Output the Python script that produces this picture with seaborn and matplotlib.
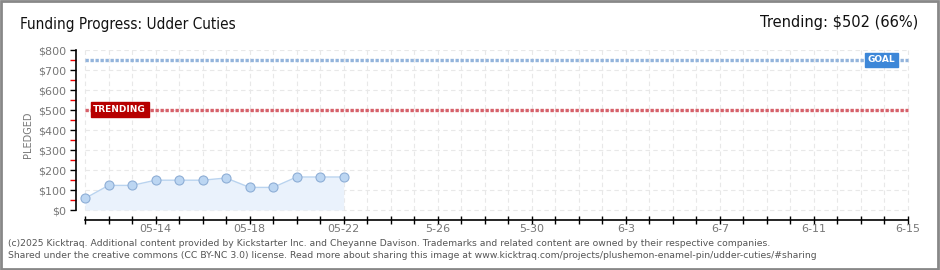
import matplotlib
matplotlib.use("Agg")
import matplotlib.pyplot as plt
import seaborn as sns
import pandas as pd
import numpy as np
from matplotlib.patches import Rectangle

# ---- data ----
start_date = "2025-05-11"
end_date = "2025-06-15"
pledge_dates = ["2025-05-11", "2025-05-12", "2025-05-13", "2025-05-14", "2025-05-15", "2025-05-16",
                "2025-05-17", "2025-05-18", "2025-05-19", "2025-05-20", "2025-05-21", "2025-05-22"]
pledged = [58, 123, 123, 149, 149, 149, 160, 113, 113, 165, 165, 165]
goal = 750
trending = 502
xtick_dates = ["2025-05-14", "2025-05-18", "2025-05-22", "2025-05-26", "2025-05-30",
               "2025-06-03", "2025-06-07", "2025-06-11", "2025-06-15"]
xtick_labels = ["05-14", "05-18", "05-22", "5-26", "5-30", "6-3", "6-7", "6-11", "6-15"]
ytick_values = [0, 100, 200, 300, 400, 500, 600, 700, 800]

sns.set_style("white")
plt.rcParams["font.family"] = ["DejaVu Sans"]

t0 = pd.Timestamp(start_date)
t_end = (pd.Timestamp(end_date) - t0).days
df = pd.DataFrame({
    "day": [(pd.Timestamp(d) - t0).days for d in pledge_dates],
    "pledged": pledged,
})

fig = plt.figure(figsize=(9.4, 2.7), dpi=100)
W, H = 940, 270
ax = fig.add_axes([76 / W, 1 - 220 / H, (910 - 76) / W, (220 - 50) / H])
px_per_day = (908 - 85) / t_end
ax.set_xlim(-(85 - 76) / px_per_day, t_end + 2 / px_per_day)
ax.set_ylim(-50, 800)

# grid
for d in range(0, t_end + 1):
    ax.plot([d, d], [0, 800], color="#e8e8e8", lw=0.8, ls=(0, (4, 3)), zorder=0)
for v in ytick_values:
    ax.plot([0, t_end], [v, v], color="#e8e8e8", lw=0.8, ls=(0, (4, 3)), zorder=0)

# area + line
ax.fill_between(df["day"], 0, df["pledged"], color="#eaf2fc", zorder=1, lw=0)
sns.lineplot(data=df, x="day", y="pledged", ax=ax, color="#b9d3ef", lw=1,
             marker="o", markersize=6.5, markerfacecolor="#bcd6f2",
             markeredgecolor="#8eaed6", markeredgewidth=0.8, zorder=3)

# goal / trending lines
ax.plot([0, t_end], [goal, goal], color="#93b4dc", lw=2.4, ls=(0, (1, 0.5)), zorder=2,
        dash_capstyle="butt")
ax.plot([0, t_end], [trending, trending], color="#d7606a", lw=2.4, ls=(0, (1, 0.5)), zorder=2,
        dash_capstyle="butt")

# labels on lines
ax.text(t_end - 0.55, goal, "GOAL", ha="right", va="center", fontsize=6.5, color="white",
        fontweight="bold", zorder=5,
        bbox=dict(boxstyle="square,pad=0.3", fc="#3d87d8", ec="#3d87d8"))
ax.text(0.35, trending, "TRENDING", ha="left", va="center", fontsize=6.5, color="white",
        fontweight="bold", zorder=5,
        bbox=dict(boxstyle="square,pad=0.3", fc="#b70000", ec="#b70000"))

# spines
for s in ["top", "right"]:
    ax.spines[s].set_visible(False)
ax.spines["left"].set_bounds(0, 800)
ax.spines["bottom"].set_bounds(0, t_end)
for s in ["left", "bottom"]:
    ax.spines[s].set_color("black")
    ax.spines[s].set_linewidth(1.2)

# ticks
ax.set_yticks(ytick_values)
ax.set_yticklabels([f"${v}" for v in ytick_values], fontsize=8, color="#777777")
ax.set_yticks([v + 50 for v in ytick_values[:-1]], minor=True)
ax.tick_params(axis="y", which="major", length=4, width=1, color="black", pad=3, left=True)
ax.tick_params(axis="y", which="minor", length=4, width=1, color="#ee0000", left=True)

label_days = [(pd.Timestamp(d) - t0).days for d in xtick_dates]
ax.set_xticks(range(0, t_end + 1), minor=True)
ax.set_xticks(label_days)
ax.set_xticklabels(xtick_labels, fontsize=8, color="#777777")
ax.tick_params(axis="x", which="both", length=6, width=1, color="black", direction="inout",
               bottom=True, pad=0)

ax.set_xlabel("")
ax.set_ylabel("PLEDGED", fontsize=7, color="#777777", labelpad=4)

# title texts
fig.text(20 / W, 1 - 24 / H, "Funding Progress: Udder Cuties", fontsize=11, color="#111111",
         ha="left", va="center", fontstretch="condensed")
fig.text(918 / W, 1 - 22 / H, "Trending: $502 (66%)", fontsize=10.5, color="#111111",
         ha="right", va="center")

# footer
fig.text(8 / W, 1 - 243 / H,
         "(c)2025 Kicktraq. Additional content provided by Kickstarter Inc. and Cheyanne Davison. "
         "Trademarks and related content are owned by their respective companies.",
         fontsize=6.7, color="#555555", ha="left", va="center")
fig.text(8 / W, 1 - 256 / H,
         "Shared under the creative commons (CC BY-NC 3.0) license. Read more about sharing this image at "
         "www.kicktraq.com/projects/plushemon-enamel-pin/udder-cuties/#sharing",
         fontsize=6.7, color="#555555", ha="left", va="center")

# border
fig.patches.append(Rectangle((0.001, 0.002), 0.997, 0.995, transform=fig.transFigure,
                             fill=False, ec="#888888", lw=2))

fig.savefig("out.png", dpi=100)
